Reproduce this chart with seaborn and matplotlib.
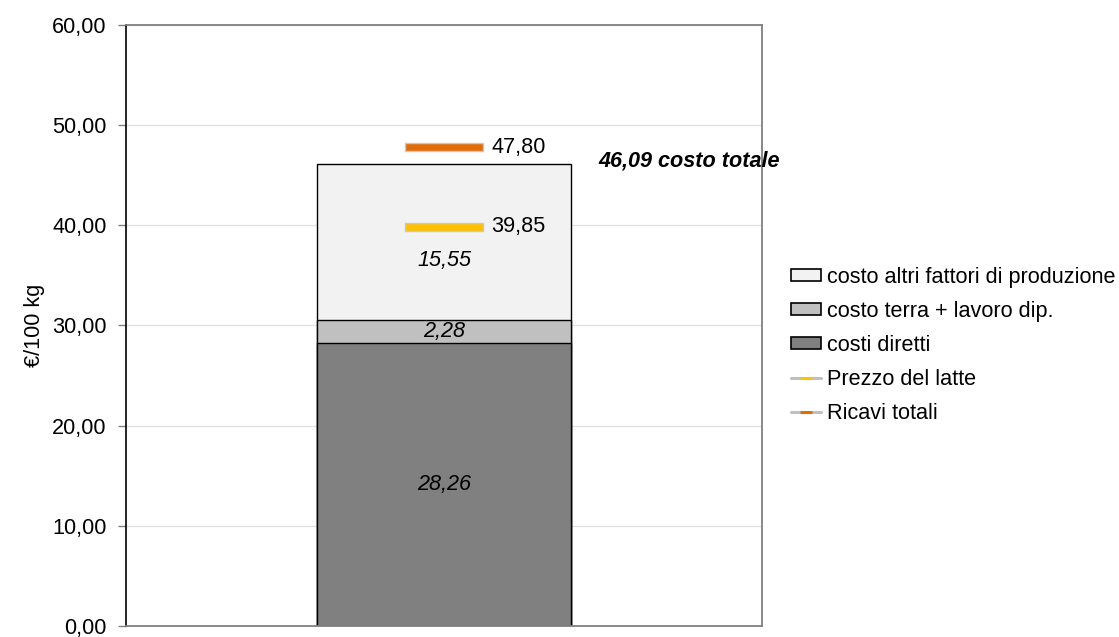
import matplotlib
matplotlib.use("Agg")
import matplotlib.pyplot as plt
import matplotlib.ticker as mticker
from matplotlib.path import Path
from matplotlib.patches import Patch
from matplotlib.lines import Line2D
import numpy as np
import pandas as pd
import seaborn as sns

# Cost components (€/100 kg), bottom to top
components = ["costi diretti", "costo terra + lavoro dip.", "costo altri fattori di produzione"]
component_values = [28.26, 2.28, 15.55]
component_colors = ["#808080", "#c0c0c0", "#f2f2f2"]

# Reference prices (€/100 kg)
price_names = ["Prezzo del latte", "Ricavi totali"]
price_values = [39.85, 47.80]
price_colors = ["#ffc000", "#e36c0a"]

total_label = "costo totale"
y_ticks = [0, 10, 20, 30, 40, 50, 60]


def it_num(v):
    return f"{v:.2f}".replace(".", ",")


sns.set_theme(style="white")
plt.rcParams["font.family"] = ["Liberation Sans", "DejaVu Sans"]
plt.rcParams["text.color"] = "black"
plt.rcParams["axes.labelcolor"] = "black"
plt.rcParams["ytick.color"] = "black"
plt.rcParams["xtick.color"] = "black"
FS = 15.6

fig = plt.figure(figsize=(11.19, 6.37), dpi=100)
ax = fig.add_axes([0.1126, 0.0173, 0.5684, 0.9435])

# Stacked bar drawn as overlapping cumulative totals
cum = np.cumsum(component_values)
df = pd.DataFrame({"x": ["" for _ in cum], "cum": cum, "name": components})
for i in range(len(cum) - 1, -1, -1):
    sns.barplot(data=df.iloc[[i]], x="x", y="cum", color=component_colors[i],
                saturation=1, width=0.4, edgecolor="black", linewidth=1,
                ax=ax, zorder=2)

# Segment value labels
bottoms = np.concatenate([[0], cum[:-1]])
label_frac = [0.5, 0.5, 0.38]
for b, h, f in zip(bottoms, component_values, label_frac):
    ax.text(0, b + h * f, it_num(h), ha="center", va="center",
            fontsize=FS, style="italic", color="black", zorder=4)

# Total label
total = cum[-1]
ax.text(0.242, total + 0.35, f"{it_num(total)} {total_label}", ha="left", va="center",
        fontsize=FS, style="italic", fontweight="bold", zorder=4)

# Price markers: flat rectangular dashes
dash = Path([(-6.0, -0.68), (6.0, -0.68), (6.0, 0.68), (-6.0, 0.68), (-6.0, -0.68)],
            [Path.MOVETO, Path.LINETO, Path.LINETO, Path.LINETO, Path.CLOSEPOLY])
for v, c in zip(price_values, price_colors):
    ax.plot([0], [v], marker=dash, markersize=56, markerfacecolor=c,
            markeredgecolor="#c8c8c8", markeredgewidth=1, linestyle="none", zorder=5)
    ax.text(0.074, v, it_num(v), ha="left", va="center", fontsize=FS, zorder=5)

# Axes styling
ax.set_xlim(-0.5, 0.5)
ax.set_ylim(0, 60)
ax.set_yticks(y_ticks)
ax.yaxis.set_major_formatter(mticker.FuncFormatter(lambda v, p: it_num(v)))
ax.set_xticks([])
ax.set_xlabel("")
ax.set_ylabel("€/100 kg", fontsize=FS, labelpad=5)
ax.tick_params(axis="y", which="major", left=True, length=6, width=1, color="#808080",
               pad=8, labelsize=FS, labelcolor="black")
ax.yaxis.grid(True, color="#e3e3e3", linewidth=1, zorder=0)
ax.set_axisbelow(True)
for s in ["top", "right", "bottom"]:
    ax.spines[s].set_color("#808080")
    ax.spines[s].set_linewidth(1.3)
ax.spines["left"].set_color("black")
ax.spines["left"].set_linewidth(1.2)

# Legend
handles = [Patch(facecolor=component_colors[2], edgecolor="black", linewidth=1.2),
           Patch(facecolor=component_colors[1], edgecolor="black", linewidth=1.2),
           Patch(facecolor=component_colors[0], edgecolor="black", linewidth=1.2)]
labels = [components[2], components[1], components[0]]
for n, c in zip(price_names, price_colors):
    handles.append(Line2D([0], [0], color="#c0c0c0", lw=2.2, marker="_",
                          markersize=9, markeredgecolor=c, markeredgewidth=2.2))
    labels.append(n)
fig.legend(handles, labels, loc="center left", bbox_to_anchor=(0.707, 0.458),
           frameon=False, fontsize=FS, handlelength=1.4, handleheight=0.5,
           handletextpad=0.25, labelspacing=0.6, borderpad=0, borderaxespad=0)

fig.savefig("out.png", dpi=100)
